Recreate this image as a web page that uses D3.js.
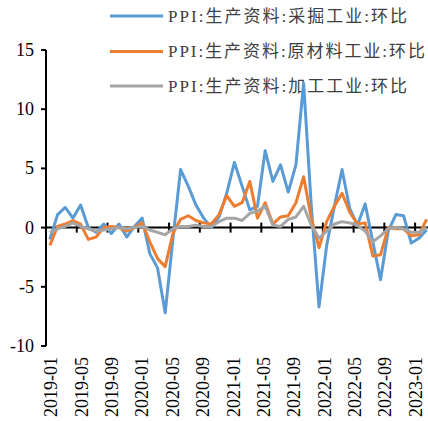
<!DOCTYPE html>
<html>
<head>
<meta charset="utf-8">
<script src="https://cdn.jsdelivr.net/npm/d3@7"></script>
<style>
  body { margin: 0; background: #fff; }
  svg { display: block; }
</style>
</head>
<body>
<svg id="canvas" width="428" height="421"></svg>
<script>
// monthly, 2019-01 .. 2023-02
const months = [];
for (let y = 2019; y <= 2023; y++) {
  for (let m = 1; m <= 12; m++) {
    if (y === 2023 && m > 2) break;
    months.push(`${y}-${String(m).padStart(2, '0')}`);
  }
}

const seriesNames = [
  'PPI:生产资料:采掘工业:环比',
  'PPI:生产资料:原材料工业:环比',
  'PPI:生产资料:加工工业:环比'
];

const mining = [
  -1.0, 1.1, 1.7, 0.8, 1.9, 0.0, -0.4, 0.3, -0.5, 0.3, -0.8, 0.1,
  0.8, -2.2, -3.4, -7.2, -1.0, 4.9, 3.5, 1.9, 0.8, 0.0, 0.9, 2.9,
  5.5, 3.5, 1.5, 1.8, 6.5, 3.9, 5.3, 3.0, 5.3, 12.2, 1.8, -6.7,
  -1.5, 1.8, 4.9, 1.6, 0.2, 2.0, -1.2, -4.4, -0.3, 1.1, 1.0, -1.3,
  -0.9, -0.2
];
const rawMaterial = [
  -1.5, 0.1, 0.3, 0.6, 0.3, -1.0, -0.8, 0.0, 0.1, 0.0, -0.3, 0.0,
  0.4, -1.2, -2.6, -3.3, -0.5, 0.7, 1.0, 0.6, 0.4, 0.3, 1.1, 2.7,
  1.8, 2.1, 3.9, 0.8, 2.1, 0.3, 0.9, 1.0, 2.1, 4.3, 0.8, -1.7,
  0.5, 1.8, 2.9, 1.3, 0.3, 0.4, -2.4, -2.3, 0.0, -0.1, -0.1, -0.7,
  -0.6, 0.7
];
const processing = [
  -0.4, -0.1, 0.1, 0.4, 0.1, -0.1, -0.3, -0.2, -0.1, 0.0, -0.1, 0.0,
  0.1, -0.2, -0.4, -0.6, -0.1, 0.1, 0.1, 0.2, 0.1, 0.1, 0.5, 0.8,
  0.8, 0.6, 1.2, 1.4, 1.8, 0.2, 0.1, 0.7, 0.9, 1.8, 0.2, -0.9,
  -0.3, 0.3, 0.5, 0.4, 0.2, -0.3, -1.2, -0.7, -0.1, 0.0, -0.1, -0.4,
  -0.4, 0.0
];

const yTicks = [-10, -5, 0, 5, 10, 15];
const colors = ['#5B9BD5', '#ED7D31', '#A5A5A5'];
const serif = '"Liberation Serif", "Times New Roman", serif';
const legendFont = '"Liberation Serif", "Noto Sans CJK SC", serif';

const svg = d3.select('#canvas');

const x = d3.scaleBand().domain(months).range([46, 46 + months.length * 7.69]);
const y = d3.scaleLinear().domain([-10, 15]).range([346, 50]);

// legend (drawn first, lines go over it)
const legendRows = [16, 51.5, 86];
const legendWidths = [239, 257, 239];
const legend = svg.append('g');
seriesNames.forEach((name, i) => {
  legend.append('line')
    .attr('x1', 110).attr('x2', 163)
    .attr('y1', legendRows[i]).attr('y2', legendRows[i])
    .attr('stroke', colors[i])
    .attr('stroke-width', 3);
  legend.append('text')
    .attr('x', 168)
    .attr('y', legendRows[i])
    .attr('dominant-baseline', 'central')
    .attr('textLength', legendWidths[i])
    .attr('lengthAdjust', 'spacing')
    .style('font-family', legendFont)
    .style('font-size', '17px')
    .attr('fill', '#404040')
    .text(name);
});

// y axis
svg.append('line')
  .attr('x1', 46).attr('x2', 46)
  .attr('y1', y(15)).attr('y2', y(-10))
  .attr('stroke', '#000').attr('stroke-width', 2);
svg.selectAll('.ytick').data(yTicks).enter().append('line')
  .attr('x1', 41).attr('x2', 46)
  .attr('y1', d => y(d)).attr('y2', d => y(d))
  .attr('stroke', '#000').attr('stroke-width', 2);
svg.selectAll('.ylabel').data(yTicks).enter().append('text')
  .attr('x', 34)
  .attr('y', d => y(d))
  .attr('text-anchor', 'end')
  .attr('dominant-baseline', 'central')
  .style('font-family', serif)
  .style('font-size', '18px')
  .text(d => d);

// x axis at zero
const labelMonths = months.filter((m, i) => i % 4 === 0);
svg.append('line')
  .attr('x1', 46).attr('x2', 430)
  .attr('y1', y(0)).attr('y2', y(0))
  .attr('stroke', '#000').attr('stroke-width', 2);
svg.selectAll('.xtick').data(labelMonths).enter().append('line')
  .attr('x1', d => x(d)).attr('x2', d => x(d))
  .attr('y1', y(0) - 5).attr('y2', y(0) + 5)
  .attr('stroke', '#000').attr('stroke-width', 2);
svg.selectAll('.xlabel').data(labelMonths).enter().append('text')
  .attr('transform', (d, k) => `translate(${x(d) + x.bandwidth() / 2 + 1.5 - k * 0.4}, 357) rotate(-90)`)
  .attr('text-anchor', 'end')
  .attr('dominant-baseline', 'central')
  .style('font-family', serif)
  .style('font-size', '18px')
  .text(d => d);

// lines
const seriesData = [mining, rawMaterial, processing];
const line = d3.line()
  .x((d, i) => x(months[i]) + x.bandwidth() / 2)
  .y(d => y(d));

seriesData.forEach((values, i) => {
  svg.append('path')
    .datum(values)
    .attr('fill', 'none')
    .attr('stroke', colors[i])
    .attr('stroke-width', 3)
    .attr('stroke-linejoin', 'round')
    .attr('d', line);
});
</script>
</body>
</html>
